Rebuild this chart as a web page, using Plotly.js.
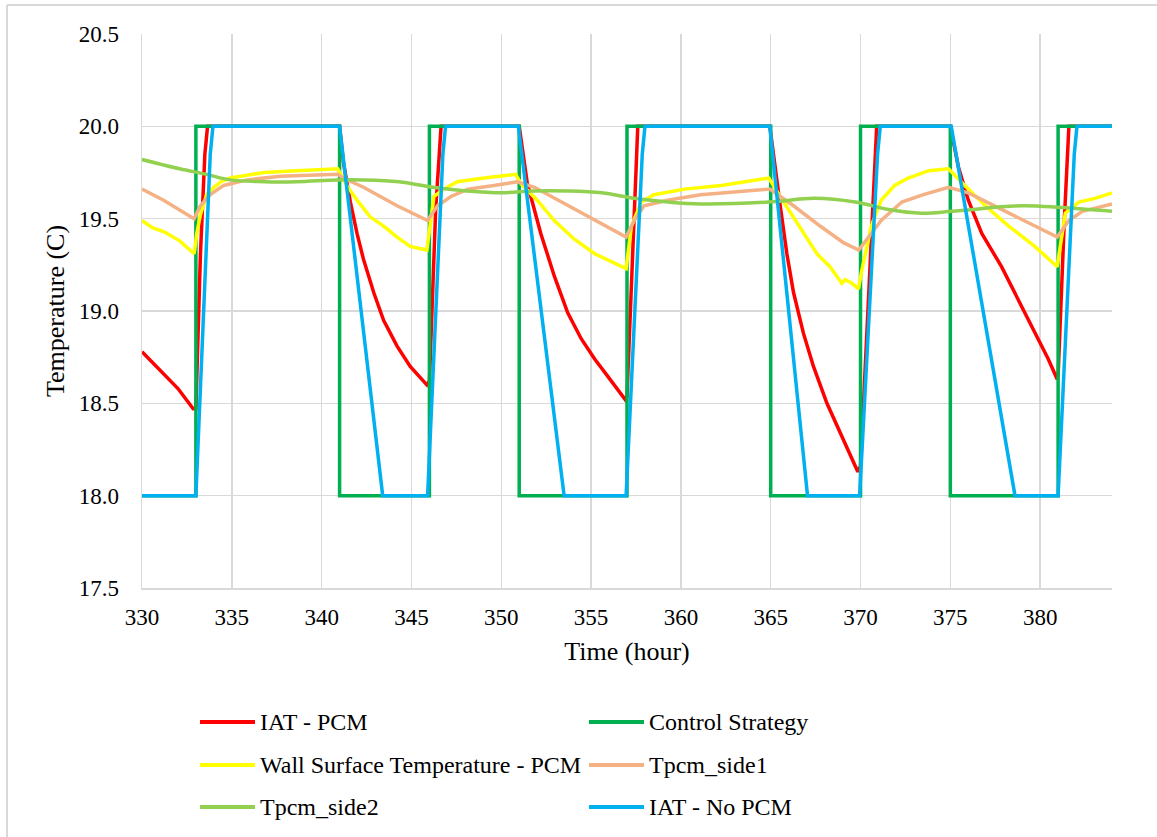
<!DOCTYPE html>
<html>
<head>
<meta charset="utf-8">
<script src="https://cdn.plot.ly/plotly-3.0.1.min.js"></script>
<style>
  html, body { margin: 0; padding: 0; background: #ffffff; }
  #chart { width: 1157px; height: 837px; }
  #chart svg text, #chart svg tspan { font-family: "Liberation Serif", "Times New Roman", serif !important; }
</style>
</head>
<body>
<div id="chart"></div>
<script>
// Series names, in drawing order
const seriesNames = [
  "IAT - PCM",
  "Control Strategy",
  "Wall Surface Temperature - PCM",
  "Tpcm_side1",
  "Tpcm_side2",
  "IAT - No PCM"
];
const seriesColors = ["#FF0000", "#00B050", "#FFFF00", "#F4B183", "#92D050", "#00B0F0"];

// Indoor air temperature with PCM (C)
const hoursIatPcm = [330, 331.2, 332.0, 332.85, 333.0, 333.25, 333.5, 333.65,
  341.0, 341.22, 341.6, 341.97, 342.33, 342.9, 343.45, 344.2, 344.93, 345.67, 345.86, 346.0, 346.35, 346.65,
  351.0, 351.45, 352.2, 352.95, 353.7, 354.45, 355.2, 355.9, 356.9, 357.0, 357.35, 357.6,
  364.95, 365.25, 365.53, 365.9, 366.27, 366.82, 367.38, 368.13, 368.87, 369.42, 369.85, 370.0, 370.5, 370.9,
  375.0, 375.45, 376.0, 376.75, 377.85, 378.8, 379.7, 380.45, 380.95, 381.0, 381.35, 381.6, 384];
const tempIatPcm = [18.78, 18.66, 18.58, 18.47, 18.47, 19.30, 19.85, 20.0,
  20.0, 19.80, 19.59, 19.42, 19.28, 19.10, 18.95, 18.81, 18.70, 18.62, 18.60, 18.62, 19.55, 20.0,
  20.0, 19.69, 19.42, 19.19, 18.99, 18.85, 18.74, 18.65, 18.52, 18.54, 19.45, 20.0,
  20.0, 19.77, 19.57, 19.31, 19.10, 18.88, 18.70, 18.50, 18.34, 18.23, 18.13, 18.16, 19.20, 20.0,
  20.0, 19.78, 19.60, 19.42, 19.24, 19.06, 18.88, 18.74, 18.63, 18.65, 19.50, 20.0, 20.0];

// Heating set-point schedule (C)
const hoursControl = [330, 333, 333, 341, 341, 346, 346, 351, 351, 357, 357, 365, 365, 370, 370, 375, 375, 381, 381, 384];
const tempControl = [18, 18, 20, 20, 18, 18, 20, 20, 18, 18, 20, 20, 18, 18, 20, 20, 18, 18, 20, 20];

// Wall surface temperature with PCM (C)
const hoursWall = [330, 330.6, 331.2, 332.1, 332.9, 333.05, 333.25, 333.6, 334.0, 334.4, 334.9, 336.8, 338.6, 340.9,
  341.4, 341.97, 342.7, 343.45, 344.2, 344.93, 345.86, 346.25, 346.8, 347.55, 349.05, 350.8,
  351.1, 352.0, 352.95, 354.05, 355.2, 356.3, 356.95, 357.25, 357.8, 358.5, 360.2, 362.25, 364.9,
  365.53, 366.27, 366.82, 367.57, 368.3, 368.96, 369.15, 369.52, 369.89, 370.05, 370.6, 371.15, 371.9, 372.65, 373.8, 374.9,
  375.8, 376.95, 378.25, 379.7, 380.95, 381.4, 382.15, 383.05, 384];
const tempWall = [19.49, 19.45, 19.43, 19.38, 19.31, 19.42, 19.52, 19.63, 19.67, 19.70, 19.72, 19.75, 19.76, 19.77,
  19.68, 19.60, 19.51, 19.46, 19.40, 19.35, 19.33, 19.62, 19.66, 19.70, 19.72, 19.74,
  19.69, 19.60, 19.49, 19.39, 19.31, 19.26, 19.23, 19.46, 19.59, 19.63, 19.66, 19.68, 19.72,
  19.62, 19.51, 19.42, 19.31, 19.24, 19.15, 19.17, 19.15, 19.12, 19.21, 19.46, 19.60, 19.68, 19.72, 19.76, 19.77,
  19.68, 19.57, 19.46, 19.35, 19.24, 19.53, 19.59, 19.61, 19.64];

// PCM temperature, side 1 (C)
const hoursSide1 = [330, 331.2, 332.9, 333.25, 333.8, 334.55, 335.85, 337.7, 340.9,
  341.2, 342.33, 343.3, 344.2, 345.9, 346.45, 347.2, 348.15, 349.6, 350.9,
  351.85, 353.15, 354.45, 355.75, 356.95, 357.4, 357.95, 359.25, 361.1, 364.95,
  366.27, 367.75, 369.05, 369.9, 370.6, 371.15, 372.3, 373.5, 374.9,
  376.0, 377.85, 379.75, 380.95, 381.6, 382.35, 384];
const tempSide1 = [19.66, 19.60, 19.50, 19.57, 19.63, 19.68, 19.71, 19.73, 19.74,
  19.72, 19.67, 19.62, 19.57, 19.49, 19.57, 19.62, 19.66, 19.68, 19.70,
  19.67, 19.60, 19.53, 19.46, 19.40, 19.49, 19.57, 19.60, 19.63, 19.66,
  19.57, 19.46, 19.37, 19.33, 19.42, 19.49, 19.59, 19.63, 19.67,
  19.64, 19.55, 19.46, 19.40, 19.49, 19.54, 19.58];

// PCM temperature, side 2 (C)
const hoursSide2 = [330, 332.1, 333.6, 334.9, 336.8, 338.6, 340.9, 342.4, 344.3, 346.2, 348.1, 350.0,
  351.8, 353.7, 355.6, 357.4, 359.3, 361.1, 364.9, 367.45, 369.7, 371.55, 373.4, 375.1, 379.0, 381.2, 384];
const tempSide2 = [19.82, 19.77, 19.74, 19.71, 19.70, 19.70, 19.71, 19.71, 19.70, 19.67, 19.65, 19.64,
  19.65, 19.65, 19.64, 19.61, 19.59, 19.58, 19.59, 19.61, 19.59, 19.55, 19.53, 19.54, 19.57, 19.56, 19.54];

// Indoor air temperature without PCM (C)
const hoursNoPcm = [330, 333.0, 333.8, 333.95, 341.0, 343.4, 345.9, 346.75, 346.9,
  350.95, 353.5, 356.95, 357.85, 358.0, 364.95, 367.05, 369.95, 370.95, 371.1,
  375.05, 378.6, 381.0, 381.9, 382.05, 384];
const tempNoPcm = [18, 18, 19.85, 20, 20, 18, 18, 19.85, 20,
  20, 18, 18, 19.85, 20, 20, 18, 18, 19.85, 20,
  20, 18, 18, 19.85, 20, 20];

const xTickVals = [330, 335, 340, 345, 350, 355, 360, 365, 370, 375, 380];
const yTickVals = [17.5, 18.0, 18.5, 19.0, 19.5, 20.0, 20.5];

const seriesX = [hoursIatPcm, hoursControl, hoursWall, hoursSide1, hoursSide2, hoursNoPcm];
const seriesY = [tempIatPcm, tempControl, tempWall, tempSide1, tempSide2, tempNoPcm];

const traces = seriesNames.map((name, i) => ({
  type: "scatter",
  mode: "lines",
  name: name,
  x: seriesX[i],
  y: seriesY[i],
  line: { color: seriesColors[i], width: 3.5, shape: (name === "Tpcm_side2") ? "spline" : "linear" },
  showlegend: false,
  hoverinfo: "x+y+name"
}));

// Frame geometry (px)
const W = 1157, H = 837;
const M = { l: 142, r: 45, t: 34, b: 249 };
const PW = W - M.l - M.r, PH = H - M.t - M.b;
const px2x = (px) => (px - M.l) / PW;
const py2y = (py) => (H - M.b - py) / PH;

const serif = "Liberation Serif";

// Legend: two columns, three rows
const shapes = [];
const annotations = [];
const rowY = [722, 765, 807];
const colX = [200, 589];
seriesNames.forEach((name, i) => {
  const row = Math.floor(i / 2), col = i % 2;
  const y = py2y(rowY[row]);
  shapes.push({
    type: "line", xref: "paper", yref: "paper",
    x0: px2x(colX[col]), x1: px2x(colX[col] + 55), y0: y, y1: y,
    line: { color: seriesColors[i], width: 4 }
  });
  annotations.push({
    xref: "paper", yref: "paper", x: px2x(colX[col] + 58), y: y,
    xanchor: "left", yanchor: "middle", showarrow: false,
    text: name, font: { family: serif, size: 24, color: "#000000" }
  });
});

// Chart-area border
shapes.push({ type: "line", xref: "paper", yref: "paper",
  x0: px2x(7), x1: px2x(7), y0: py2y(5), y1: py2y(H + 5),
  line: { color: "#D9D9D9", width: 2 } });
shapes.push({ type: "line", xref: "paper", yref: "paper",
  x0: px2x(7), x1: px2x(W + 5), y0: py2y(5), y1: py2y(5),
  line: { color: "#D9D9D9", width: 2 } });

const layout = {
  width: W, height: H,
  margin: M,
  paper_bgcolor: "#ffffff",
  plot_bgcolor: "#ffffff",
  showlegend: false,
  font: { family: serif, color: "#000000", size: 23 },
  xaxis: {
    range: [330, 384],
    tickvals: xTickVals,
    ticktext: xTickVals.map(String),
    showgrid: true, gridcolor: "#D9D9D9", gridwidth: 1.5,
    zeroline: false, showline: true, linecolor: "#D9D9D9", linewidth: 1.5,
    ticks: "", ticklabelstandoff: 8,
    tickfont: { family: serif, size: 23, color: "#000000" },
    title: { text: "Time (hour)", font: { family: serif, size: 26, color: "#000000" }, standoff: 12 }
  },
  yaxis: {
    range: [17.5, 20.5],
    tickvals: yTickVals,
    ticktext: yTickVals.map(v => v.toFixed(1)),
    showgrid: true, gridcolor: "#D9D9D9", gridwidth: 1.5,
    zeroline: false, showline: true, linecolor: "#D9D9D9", linewidth: 1.5,
    ticks: "", ticklabelstandoff: 17,
    tickfont: { family: serif, size: 23, color: "#000000" },
    title: { text: "Temperature (C)", font: { family: serif, size: 26, color: "#000000" }, standoff: 6 }
  },
  shapes: shapes,
  annotations: annotations
};

Plotly.newPlot("chart", traces, layout, { displayModeBar: false, staticPlot: true }).then((gd) => {
  // Make sure every label uses the serif face
  gd.querySelectorAll("text, tspan").forEach((el) => {
    el.style.setProperty("font-family", "'Liberation Serif', 'Times New Roman', serif", "important");
  });
});
</script>
</body>
</html>
